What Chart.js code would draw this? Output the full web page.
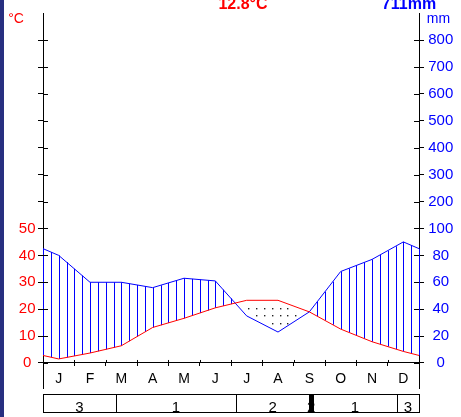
<!DOCTYPE html>
<html>
<head>
<meta charset="utf-8">
<script src="https://cdn.jsdelivr.net/npm/chart.js@4/dist/chart.umd.min.js"></script>
<style>
  html, body { margin: 0; padding: 0; background: #fff; overflow: hidden; }
  canvas { display: block; }
</style>
</head>
<body>
<canvas id="climate" width="461" height="417"></canvas>
<script>
// ---------- data ----------
const months = ["J", "F", "M", "A", "M", "J", "J", "A", "S", "O", "N", "D"];
const tempC = [1.5, 3.7, 6.4, 13.2, 16.6, 20.5, 23.3, 23.3, 19.0, 12.6, 7.9, 4.3];
const precipMm = [80, 60, 60, 56, 63, 61, 35, 23, 38, 68, 77, 90];
const tempAtYearEdge = 2.8; // 1 Jan / 31 Dec
const precipAtYearEdge = 85;
const meanTempLabel = "12.8°C";
const totalPrecipLabel = "711mm";

// shared vertical axis is in °C; 10 °C = 20 mm up to 100 mm, then 10 °C = 100 mm
const axisSteps = [0, 10, 20, 30, 40, 50, 60, 70, 80, 90, 100, 110, 120];
const tempTickLabels = ["0", "10", "20", "30", "40", "50", "", "", "", "", "", "", ""];
const precipTickLabels = ["0", "20", "40", "60", "80", "100", "200", "300", "400", "500", "600", "700", "800"];

// bottom strip (month positions) and codes
const periodBounds = [0, 2.33, 6.16, 8.5, 8.62, 11.29, 12];
const periodCodes = ["3", "1", "2", "2", "1", "3"];

// ---------- helpers ----------
const mmToAxis = (mm) => (mm <= 100 ? mm / 2 : 50 + (mm - 100) / 20);
const xs = [0, ...months.map((_, i) => i + 0.5), 12];
const tempLine = [tempAtYearEdge, ...tempC, tempAtYearEdge];
const precipLine = [precipAtYearEdge, ...precipMm, precipAtYearEdge].map(mmToAxis);

function lineAt(ys, x) {
  for (let i = 0; i < xs.length - 1; i++) {
    if (x >= xs[i] && x <= xs[i + 1]) {
      const t = (x - xs[i]) / (xs[i + 1] - xs[i]);
      return ys[i] + t * (ys[i + 1] - ys[i]);
    }
  }
  return ys[ys.length - 1];
}
const crisp = (v) => Math.round(v) + 0.5;

const NARROW = '"Liberation Sans Narrow", "Liberation Sans", Arial, sans-serif';
const RED = "#ff0000";
const BLUE = "#0000ff";

// ---------- decorations ----------
const climatePlugin = {
  id: "climate",
  beforeDraw(chart) {
    const ctx = chart.ctx;
    ctx.save();
    ctx.fillStyle = "#fff";
    ctx.fillRect(0, 0, chart.width, chart.height);
    ctx.fillStyle = "#272f80";
    ctx.fillRect(0, 0, 4, chart.height);
    ctx.restore();
  },
  beforeDatasetsDraw(chart) {
    const { ctx, chartArea, scales } = chart;
    const x = scales.x, y = scales.y;
    ctx.save();
    ctx.beginPath();
    ctx.rect(chartArea.left, chartArea.top, chartArea.right - chartArea.left + 1, chartArea.bottom - chartArea.top);
    ctx.clip();
    // humid period: vertical hatching
    ctx.strokeStyle = BLUE;
    ctx.lineWidth = 1;
    for (let k = 0; k <= 48; k++) {
      const m = k / 4;
      const t = lineAt(tempLine, m), p = lineAt(precipLine, m);
      if (p <= t) continue;
      const px = crisp(x.getPixelForValue(m));
      ctx.beginPath();
      ctx.moveTo(px, y.getPixelForValue(t));
      ctx.lineTo(px, y.getPixelForValue(p));
      ctx.stroke();
    }
    // arid period: dots
    ctx.fillStyle = "#222";
    for (let k = 0; k < 48; k++) {
      const m = 0.05 + k / 4;
      const t = lineAt(tempLine, m), p = lineAt(precipLine, m);
      if (t <= p) continue;
      for (let j = 0; j < 12; j++) {
        const v = 1.15 + 2.75 * j;
        if (v > p + 0.8 && v < t - 0.8) {
          ctx.fillRect(Math.round(x.getPixelForValue(m)), Math.round(y.getPixelForValue(v)), 1.4, 1.4);
        }
      }
    }
    ctx.restore();
  },
  afterDraw(chart) {
    const { ctx, chartArea, scales } = chart;
    const x = scales.x, y = scales.y;
    ctx.save();
    ctx.strokeStyle = "#000";
    ctx.lineWidth = 1;
    // inner halves of the tick marks
    axisSteps.forEach((v) => {
      const py = crisp(y.getPixelForValue(v));
      ctx.beginPath();
      ctx.moveTo(chartArea.left, py);
      ctx.lineTo(chartArea.left + 5, py);
      ctx.moveTo(chartArea.right, py);
      ctx.lineTo(chartArea.right - 5, py);
      ctx.stroke();
    });
    const zeroY = y.getPixelForValue(0);
    for (let k = 1; k < 12; k++) {
      const px = crisp(x.getPixelForValue(k));
      ctx.beginPath();
      ctx.moveTo(px, zeroY - 3);
      ctx.lineTo(px, zeroY);
      ctx.stroke();
    }

    // titles and units
    ctx.textAlign = "center";
    ctx.textBaseline = "alphabetic";
    ctx.font = "bold 16px " + NARROW;
    ctx.fillStyle = RED;
    ctx.fillText(meanTempLabel, 243, 8.5);
    ctx.fillStyle = BLUE;
    ctx.fillText(totalPrecipLabel, 409, 8.5);
    ctx.font = "14px " + NARROW;
    ctx.fillStyle = RED;
    ctx.fillText("°C", 16, 22.5);
    ctx.fillStyle = BLUE;
    ctx.fillText("mm", chartArea.right + 19.5, 22.5);

    // bottom strip
    const top = chartArea.bottom + 6, h = 18;
    ctx.font = "15px " + NARROW;
    ctx.fillStyle = "#000";
    periodCodes.forEach((code, i) => {
      const x0 = x.getPixelForValue(periodBounds[i]);
      const x1 = x.getPixelForValue(periodBounds[i + 1]);
      ctx.fillText(code, (x0 + x1) / 2, top + 17.5);
    });
    periodCodes.forEach((code, i) => {
      const x0 = crisp(x.getPixelForValue(periodBounds[i]));
      const x1 = crisp(x.getPixelForValue(periodBounds[i + 1]));
      if (x1 - x0 < 6) ctx.fillRect(x0, top, x1 - x0, h);
      ctx.strokeRect(x0, crisp(top), x1 - x0, h);
    });
    ctx.restore();
  },
};

// ---------- chart ----------
const tickFont = { family: NARROW, size: 15 };

new Chart(document.getElementById("climate"), {
  type: "line",
  data: {
    datasets: [
      {
        label: "Temperature",
        data: xs.map((m, i) => ({ x: m, y: tempLine[i] })),
        borderColor: RED,
        borderWidth: 1,
        pointRadius: 0,
        tension: 0,
        yAxisID: "y",
      },
      {
        label: "Precipitation",
        data: xs.map((m, i) => ({ x: m, y: precipLine[i] })),
        borderColor: BLUE,
        borderWidth: 1,
        pointRadius: 0,
        tension: 0,
        yAxisID: "y",
      },
    ],
  },
  options: {
    responsive: false,
    animation: false,
    layout: { padding: { top: 10.4, bottom: 29, left: 0, right: 0 } },
    plugins: { legend: { display: false }, tooltip: { enabled: false } },
    scales: {
      x: {
        type: "linear",
        position: { y: 0 },
        min: 0,
        max: 12,
        afterBuildTicks: (s) => {
          s.ticks = months.map((_, i) => ({ value: i + 0.5 }));
        },
        ticks: {
          callback: (v, i) => months[i],
          color: "#000",
          font: { family: NARROW, size: 14 },
          padding: 4.3,
          autoSkip: false,
          maxRotation: 0,
        },
        grid: { offset: true, drawOnChartArea: false, color: "#000", tickLength: 3 },
        border: { color: "#000" },
      },
      y: {
        type: "linear",
        position: "left",
        min: -9.3,
        max: 130,
        afterBuildTicks: (s) => {
          s.ticks = axisSteps.map((v) => ({ value: v }));
        },
        afterFit: (s) => {
          s.width = 43;
        },
        ticks: {
          callback: (v, i) => tempTickLabels[i],
          color: RED,
          font: tickFont,
          crossAlign: "center",
          padding: 2.5,
        },
        grid: { drawOnChartArea: false, color: "#000", tickLength: 5 },
        border: { color: "#000" },
      },
      y2: {
        type: "linear",
        position: "right",
        min: -9.3,
        max: 130,
        afterBuildTicks: (s) => {
          s.ticks = axisSteps.map((v) => ({ value: v }));
        },
        afterFit: (s) => {
          s.width = 42;
        },
        ticks: {
          callback: (v, i) => precipTickLabels[i],
          color: BLUE,
          font: tickFont,
          crossAlign: "center",
          padding: 4.25,
        },
        grid: { drawOnChartArea: false, color: "#000", tickLength: 5 },
        border: { color: "#000" },
      },
    },
  },
  plugins: [climatePlugin],
});
</script>
</body>
</html>
